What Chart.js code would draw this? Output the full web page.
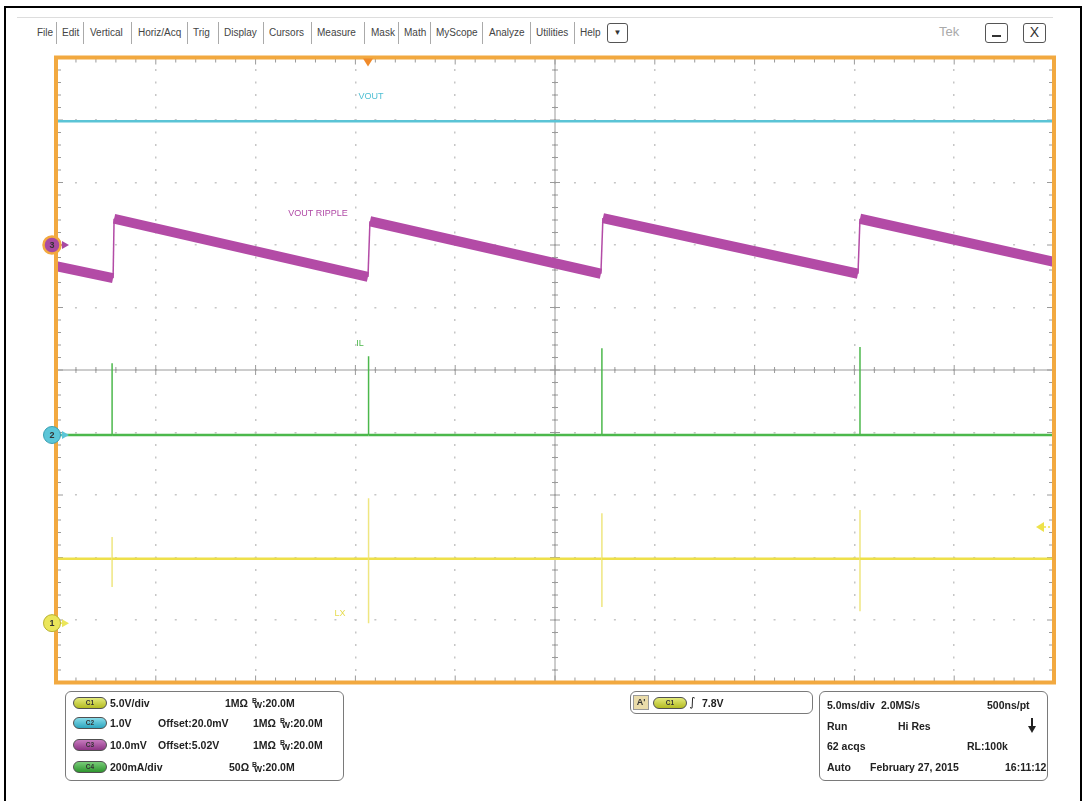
<!DOCTYPE html>
<html>
<head>
<meta charset="utf-8">
<title>Scope capture</title>
<script src="https://cdn.jsdelivr.net/npm/chart.js@4.4.0/dist/chart.umd.min.js"></script>
<style>
  body { margin: 0; width: 1086px; height: 801px; background: #fff; position: relative; overflow: hidden; font-family: "Liberation Sans", Arial, sans-serif; }
  #scope { position: absolute; left: 0; top: 0; }
  .line { position: absolute; background: #000; }
  .menu { position: absolute; top: 27px; font-size: 10px; color: #444; white-space: nowrap; }
  .sep { position: absolute; top: 22px; width: 1px; height: 22px; background: #aaa; }
  .btn { position: absolute; top: 23px; height: 20px; border: 1.5px solid #555; border-radius: 3px; box-sizing: border-box; text-align: center; color: #333; }
  .box { position: absolute; border: 1.5px solid #7a7a7a; border-radius: 6px; box-sizing: border-box; }
  .t { position: absolute; font-size: 10.5px; font-weight: bold; color: #222; white-space: nowrap; line-height: 12px; }
  .pill { position: absolute; width: 34px; height: 12px; border-radius: 7px; border: 1px solid #505050; box-sizing: border-box; font: bold 6.5px "Liberation Sans", Arial, sans-serif; color: #333; text-align: center; line-height: 10px; }
  .bw { position: relative; display: inline-block; width: 10px; height: 12px; vertical-align: top; }
  .bw .b { position: absolute; left: 0; top: -2px; font-size: 7px; }
  .bw .w { position: absolute; left: 2px; top: 2px; font-size: 8.5px; }
</style>
</head>
<body>

<!-- outer frame -->
<div class="line" style="left:4px; top:6px; width:1078px; height:2px;"></div>
<div class="line" style="left:4px; top:6px; width:2px; height:800px;"></div>
<div class="line" style="left:1080px; top:6px; width:2px; height:800px;"></div>
<div style="position:absolute; left:17px; top:17px; width:1036px; height:1px; background:#ddd;"></div>

<!-- menu bar -->
<span class="menu" style="left:37px;">File</span>
<span class="sep" style="left:56px;"></span>
<span class="menu" style="left:62px;">Edit</span>
<span class="sep" style="left:83px;"></span>
<span class="menu" style="left:90px;">Vertical</span>
<span class="sep" style="left:131px;"></span>
<span class="menu" style="left:138px;">Horiz/Acq</span>
<span class="sep" style="left:187px;"></span>
<span class="menu" style="left:193px;">Trig</span>
<span class="sep" style="left:218px;"></span>
<span class="menu" style="left:224px;">Display</span>
<span class="sep" style="left:263px;"></span>
<span class="menu" style="left:269px;">Cursors</span>
<span class="sep" style="left:311px;"></span>
<span class="menu" style="left:317px;">Measure</span>
<span class="sep" style="left:364px;"></span>
<span class="menu" style="left:371px;">Mask</span>
<span class="sep" style="left:398px;"></span>
<span class="menu" style="left:404px;">Math</span>
<span class="sep" style="left:430px;"></span>
<span class="menu" style="left:436px;">MyScope</span>
<span class="sep" style="left:482px;"></span>
<span class="menu" style="left:489px;">Analyze</span>
<span class="sep" style="left:530px;"></span>
<span class="menu" style="left:536px;">Utilities</span>
<span class="sep" style="left:574px;"></span>
<span class="menu" style="left:580px;">Help</span>
<div class="btn" style="left:607px; width:21px; font-size:8px; line-height:17px;">&#9660;</div>
<span class="menu" style="left:939px; top:24px; font-size:13px; color:#aaa;">Tek</span>
<div class="btn" style="left:985px; width:23px;"><div style="position:absolute; left:6px; top:11px; width:9px; height:2px; background:#333;"></div></div>
<div class="btn" style="left:1023px; width:23px; font-size:14px; line-height:17px;">X</div>

<canvas id="scope" width="1086" height="801"></canvas>

<!-- channel settings -->
<div class="box" style="left:65px; top:691px; width:279px; height:90px;"></div>
<div class="pill" style="left:73px; top:697px; background:linear-gradient(#e4ea7a,#b4bc22);">C1</div>
<div class="pill" style="left:73px; top:717px; background:linear-gradient(#86dbe9,#2ea6bf);">C2</div>
<div class="pill" style="left:73px; top:739px; background:linear-gradient(#c77abf,#8d3585);">C3</div>
<div class="pill" style="left:73px; top:761px; background:linear-gradient(#78cc78,#2f962f);">C4</div>
<span class="t" style="left:110px; top:697px;">5.0V/div</span>
<span class="t" style="left:225px; top:697px;">1MΩ</span>
<span class="t" style="left:252px; top:697px;"><span class="bw"><span class="b">B</span><span class="w">W</span></span>:20.0M</span>
<span class="t" style="left:110px; top:717px;">1.0V</span>
<span class="t" style="left:158px; top:717px;">Offset:20.0mV</span>
<span class="t" style="left:253px; top:717px;">1MΩ</span>
<span class="t" style="left:280px; top:717px;"><span class="bw"><span class="b">B</span><span class="w">W</span></span>:20.0M</span>
<span class="t" style="left:110px; top:739px;">10.0mV</span>
<span class="t" style="left:158px; top:739px;">Offset:5.02V</span>
<span class="t" style="left:253px; top:739px;">1MΩ</span>
<span class="t" style="left:280px; top:739px;"><span class="bw"><span class="b">B</span><span class="w">W</span></span>:20.0M</span>
<span class="t" style="left:110px; top:761px;">200mA/div</span>
<span class="t" style="left:229px; top:761px;">50Ω</span>
<span class="t" style="left:252px; top:761px;"><span class="bw"><span class="b">B</span><span class="w">W</span></span>:20.0M</span>

<!-- trigger -->
<div class="box" style="left:630px; top:691px; width:183px; height:23px;"></div>
<div style="position:absolute; left:633px; top:695px; width:16px; height:15px; background:#eadcaa; border:1px solid #999; box-sizing:border-box; font:bold 9px 'Liberation Sans',Arial,sans-serif; line-height:13px; text-align:center; color:#333;">A'</div>
<div class="pill" style="left:653px; top:697px; background:linear-gradient(#e4ea7a,#b4bc22);">C1</div>
<span class="t" style="left:689px; top:696px; font-family:'DejaVu Sans',sans-serif; font-weight:normal; font-size:12px;">∫</span>
<span class="t" style="left:702px; top:697px;">7.8V</span>

<!-- timebase -->
<div class="box" style="left:819px; top:691px; width:229px; height:90px;"></div>
<span class="t" style="left:827px; top:699px;">5.0ms/div</span>
<span class="t" style="left:881px; top:699px;">2.0MS/s</span>
<span class="t" style="left:987px; top:699px;">500ns/pt</span>
<span class="t" style="left:827px; top:720px;">Run</span>
<span class="t" style="left:898px; top:720px;">Hi Res</span>
<div style="position:absolute; left:1031px; top:718px; width:2px; height:10px; background:#222;"></div>
<div style="position:absolute; left:1028px; top:726px; width:0; height:0; border-left:4px solid transparent; border-right:4px solid transparent; border-top:7px solid #222;"></div>
<span class="t" style="left:827px; top:740px;">62 acqs</span>
<span class="t" style="left:967px; top:740px;">RL:100k</span>
<span class="t" style="left:827px; top:761px;">Auto</span>
<span class="t" style="left:870px; top:761px;">February 27, 2015</span>
<span class="t" style="left:1005px; top:761px;">16:11:12</span>

<script>
"use strict";

// time in ms (5 ms/div, 10 div), levels in screen divisions (center = 0)
var voutTime = [0, 50];
var voutLevel = [3.98, 3.98];

var rippleTime = [0, 2.86, 2.91, 15.63, 15.73, 27.30, 27.40, 40.18, 40.28, 50];
var rippleLevel = [1.66, 1.47, 2.42, 1.49, 2.38, 1.54, 2.43, 1.54, 2.42, 1.73];

var spikeTime = [2.81, 15.66, 27.35, 40.28];
var ilBase = -1.04;
var ilPeak = [0.11, 0.22, 0.35, 0.37];
var lxBase = -3.02;
var lxHigh = [-2.67, -2.05, -2.29, -2.24];
var lxLow = [-3.47, -4.05, -3.79, -3.86];

// channel ground markers (div) and trigger level (div)
var markerLevels = [-4.05, -1.04, 2.0];
var triggerLevel = -2.51;
var triggerTime = 15.63;

var voutPoints = voutTime.map((t, i) => ({ x: t, y: voutLevel[i] }));
var ripplePoints = rippleTime.map((t, i) => ({ x: t, y: rippleLevel[i] }));

var ilPoints = [{ x: 0, y: ilBase }];
spikeTime.forEach((t, i) => {
  ilPoints.push({ x: t, y: ilBase }, { x: t, y: ilPeak[i] }, { x: t, y: ilBase });
});
ilPoints.push({ x: 50, y: ilBase });

var lxPoints = [{ x: 0, y: lxBase }];
spikeTime.forEach((t, i) => {
  lxPoints.push({ x: t, y: lxBase }, { x: t, y: lxHigh[i] }, { x: t, y: lxLow[i] }, { x: t, y: lxBase });
});
lxPoints.push({ x: 50, y: lxBase });

var vertical = (ctx) => ctx.p0.parsed.x === ctx.p1.parsed.x;

var scopeDecor = {
  id: 'scopeDecor',
  beforeDatasetsDraw(chart) {
    var c = chart.ctx, a = chart.chartArea;
    var xs = chart.scales.x, ys = chart.scales.y;
    var cx = xs.getPixelForValue(25), cy = ys.getPixelForValue(0);
    c.save();
    c.strokeStyle = '#9a9a9a';
    c.lineWidth = 1;
    c.beginPath();
    c.moveTo(a.left, cy); c.lineTo(a.right, cy);
    c.moveTo(cx, a.top); c.lineTo(cx, a.bottom);
    // minor ticks every 1 ms and 0.2 div
    for (var t = 0; t <= 50; t += 1) {
      var px = xs.getPixelForValue(t);
      var big = t % 5 === 0 ? 5 : 3;
      c.moveTo(px, cy - big); c.lineTo(px, cy + big);
      c.moveTo(px, a.top); c.lineTo(px, a.top + big + 2);
      c.moveTo(px, a.bottom); c.lineTo(px, a.bottom - big - 2);
    }
    for (var k = -25; k <= 25; k++) {
      var py = ys.getPixelForValue(k / 5);
      var len = k % 5 === 0 ? 5 : 3;
      c.moveTo(cx - len, py); c.lineTo(cx + len, py);
      c.moveTo(a.left, py); c.lineTo(a.left + len + 2, py);
      c.moveTo(a.right, py); c.lineTo(a.right - len - 2, py);
    }
    c.stroke();
    c.restore();
  },
  afterDatasetsDraw(chart) {
    var c = chart.ctx, a = chart.chartArea;
    var xs = chart.scales.x, ys = chart.scales.y;
    c.save();
    // trace labels
    c.font = '9px "Liberation Sans", Arial, sans-serif';
    c.textAlign = 'center';
    c.textBaseline = 'middle';
    var labels = [
      ['VOUT', 15.78, 4.37, '#4fbfd3'],
      ['VOUT RIPPLE', 13.13, 2.50, '#b04aa6'],
      ['IL', 15.23, 0.43, '#4cb84c'],
      ['LX', 14.23, -3.89, '#e6dc50']
    ];
    labels.forEach((l) => {
      c.fillStyle = l[3];
      c.fillText(l[0], xs.getPixelForValue(l[1]), ys.getPixelForValue(l[2]));
    });
    // orange graticule border
    c.strokeStyle = '#f2a940';
    c.lineWidth = 4;
    c.strokeRect(a.left, a.top, a.right - a.left, a.bottom - a.top);
    // trigger position
    var tx = xs.getPixelForValue(triggerTime);
    c.fillStyle = '#f08a2a';
    c.beginPath();
    c.moveTo(tx - 5, a.top + 1); c.lineTo(tx + 5, a.top + 1); c.lineTo(tx, a.top + 9);
    c.closePath(); c.fill();
    // trigger level
    var ty = ys.getPixelForValue(triggerLevel);
    c.fillStyle = '#eee24a';
    c.beginPath();
    c.moveTo(a.right - 18, ty); c.lineTo(a.right - 10, ty - 5); c.lineTo(a.right - 10, ty + 5);
    c.closePath(); c.fill();
    c.strokeStyle = '#eee24a';
    c.lineWidth = 1.5;
    c.setLineDash([2, 2]);
    c.beginPath(); c.moveTo(a.right - 10, ty); c.lineTo(a.right - 2, ty); c.stroke();
    c.setLineDash([]);
    // channel markers
    var marks = [
      ['1', '#ebe65a', '#b8b030', 1],
      ['2', '#5cc6d8', '#3a9fb2', 1],
      ['3', '#a84aa2', '#f2a940', 2.5]
    ];
    marks.forEach((m, i) => {
      var my = ys.getPixelForValue(markerLevels[i]);
      var mx = a.left - 4;
      c.fillStyle = m[1];
      c.beginPath(); c.moveTo(mx + 10, my - 4); c.lineTo(mx + 17, my); c.lineTo(mx + 10, my + 4); c.closePath(); c.fill();
      c.strokeStyle = m[1]; c.lineWidth = 1.5;
      c.beginPath(); c.moveTo(mx + 6, my); c.lineTo(mx + 12, my); c.stroke();
      c.beginPath(); c.arc(mx, my, 8.5, 0, Math.PI * 2); c.fill();
      c.strokeStyle = m[2]; c.lineWidth = m[3];
      c.stroke();
      c.fillStyle = '#333';
      c.font = 'bold 9px "Liberation Sans", Arial, sans-serif';
      c.fillText(m[0], mx, my + 0.5);
    });
    c.restore();
  }
};

var ctx = document.getElementById('scope').getContext('2d');
var scopeChart = new Chart(ctx, {
  type: 'line',
  data: {
    datasets: [{
      label: 'VOUT RIPPLE',
      data: ripplePoints,
      borderColor: '#b34ba6',
      segment: {
        borderWidth: (c) => (c.p1.parsed.y > c.p0.parsed.y ? 1.5 : 10)
      }
    }, {
      label: 'IL',
      data: ilPoints,
      borderColor: '#4cb84c',
      segment: {
        borderWidth: (c) => (vertical(c) ? 1.5 : 2.5)
      }
    }, {
      label: 'LX',
      data: lxPoints,
      borderColor: '#eee04a',
      segment: {
        borderWidth: (c) => (vertical(c) ? 1.5 : 2.5),
        borderColor: (c) => (vertical(c) ? '#efe680' : '#eee04a')
      }
    }, {
      label: 'VOUT',
      data: voutPoints,
      borderColor: '#5bc4d6',
      borderWidth: 2.5
    }]
  },
  options: {
    responsive: false,
    animation: false,
    layout: {
      padding: { left: 56, right: 32, top: 57.5, bottom: 118.5 }
    },
    elements: {
      point: { radius: 0 },
      line: { tension: 0, borderCapStyle: 'butt', borderJoinStyle: 'miter' }
    },
    plugins: {
      legend: { display: false },
      tooltip: { enabled: false },
      title: { display: false }
    },
    scales: {
      x: {
        type: 'linear',
        min: 0,
        max: 50,
        ticks: { display: false, stepSize: 5 },
        grid: { color: '#c6c6c6', lineWidth: 1.5, drawTicks: false },
        border: { display: false, dash: [2, 10.5], dashOffset: 1 }
      },
      y: {
        type: 'linear',
        min: -5,
        max: 5,
        ticks: { display: false, stepSize: 1 },
        grid: { color: '#c6c6c6', lineWidth: 1.5, drawTicks: false },
        border: { display: false, dash: [2, 17.96], dashOffset: 1 }
      }
    }
  },
  plugins: [scopeDecor]
});
</script>
</body>
</html>
